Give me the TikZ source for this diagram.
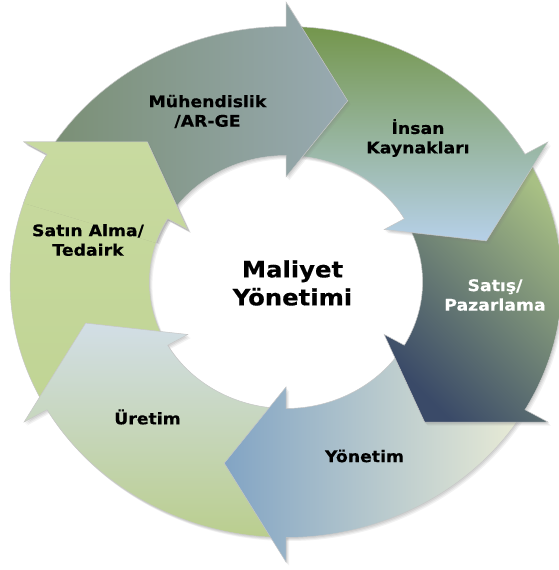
\documentclass[tikz,border=0pt]{standalone}
\usepackage{fontspec}
\setmainfont{DejaVu Sans}
\newfontfamily\labfont[FakeStretch=1.08, BoldFeatures={FakeBold=0.4}]{DejaVu Sans}
\usetikzlibrary{shadows}
\definecolor{cAl}{RGB}{122,143,116}
\definecolor{cAr}{RGB}{152,170,178}
\definecolor{cBt}{RGB}{116,150,76}
\definecolor{cBb}{RGB}{182,208,232}
\definecolor{cCd}{RGB}{58,74,104}
\definecolor{cCl}{RGB}{168,192,132}
\definecolor{cDl}{RGB}{130,164,196}
\definecolor{cDr}{RGB}{234,236,214}
\definecolor{cEt}{RGB}{210,222,230}
\definecolor{cEb}{RGB}{186,206,142}
\definecolor{cFt}{RGB}{200,218,160}
\definecolor{cFb}{RGB}{192,212,148}
\def\Ro{255.5}
\def\Ri{126.5}
\def\Rbo{280}
\def\Rbi{105}
\def\Rt{190}
\def\Dt{17.5}
\newcommand\cyclearrow[2]{%
  \path[arrowshape,#2] ({#1+60}:\Ro) arc[start angle={#1+60}, end angle={#1}, radius=\Ro]
    -- (#1:\Rbo) -- ({#1-\Dt}:\Rt) -- (#1:\Rbi) -- (#1:\Ri)
    arc[start angle={#1}, end angle={#1+60}, radius=\Ri] -- cycle;}
\begin{document}
\begin{tikzpicture}[x=1pt,y=1pt,
  lab/.style={font=\labfont\bfseries\fontsize{16}{19.5}\selectfont, align=center, text=black, inner sep=0pt},
  midlab/.style={font=\labfont\bfseries\fontsize{22.5}{28}\selectfont, align=center, text=black, inner sep=0pt},
  arrowshape/.style={draw=black!22, line width=0.5pt,
    drop shadow={shadow xshift=3pt, shadow yshift=-3.5pt, opacity=0.10},
    drop shadow={shadow xshift=2pt, shadow yshift=-2.5pt, opacity=0.12},
    drop shadow={shadow xshift=1pt, shadow yshift=-1.5pt, opacity=0.15}},
  shA/.style={shade, left color=cAl, right color=cAr},
  shB/.style={shade, top color=cBt, bottom color=cBb},
  shC/.style={shade, top color=cCl, bottom color=cCd, shading angle=-45},
  shD/.style={shade, left color=cDl, right color=cDr},
  shE/.style={shade, top color=cEt, bottom color=cEb},
  shF/.style={shade, top color=cFt, bottom color=cFb},
]
\useasboundingbox (-286,-288) rectangle (272,282);
\fill[white] (-286,-288) rectangle (272,282);
\begin{scope}[xscale=1.08]
  \cyclearrow{150}{shF}
  \cyclearrow{-150}{shE}
  \cyclearrow{-90}{shD}
  \cyclearrow{-30}{shC}
  \cyclearrow{30}{shB}
  \cyclearrow{90}{shA}
  \begin{scope}
    \clip (162:300) -- (162:100) -- (118:100) -- (118:300) -- cycle;
    \cyclearrow{150}{shF}
  \end{scope}
\end{scope}
\node[lab] (muh) at (-78.5,170.5) {Mühendislik\\/AR-GE};
\node[lab] (ins) at (132,144) {İnsan\\Kaynakları};
\node[lab, text=white] (sat) at (209,-13) {Satış/\\Pazarlama};
\node[lab] (yon) at (78.5,-174) {Yönetim};
\node[lab] (ure) at (-138.5,-135) {Üretim};
\node[lab] (ted) at (-198,42) {Satın Alma/\\Tedairk};
\node[midlab] (mal) at (6.5,-1) {Maliyet\\Yönetimi};
\end{tikzpicture}
\end{document}
